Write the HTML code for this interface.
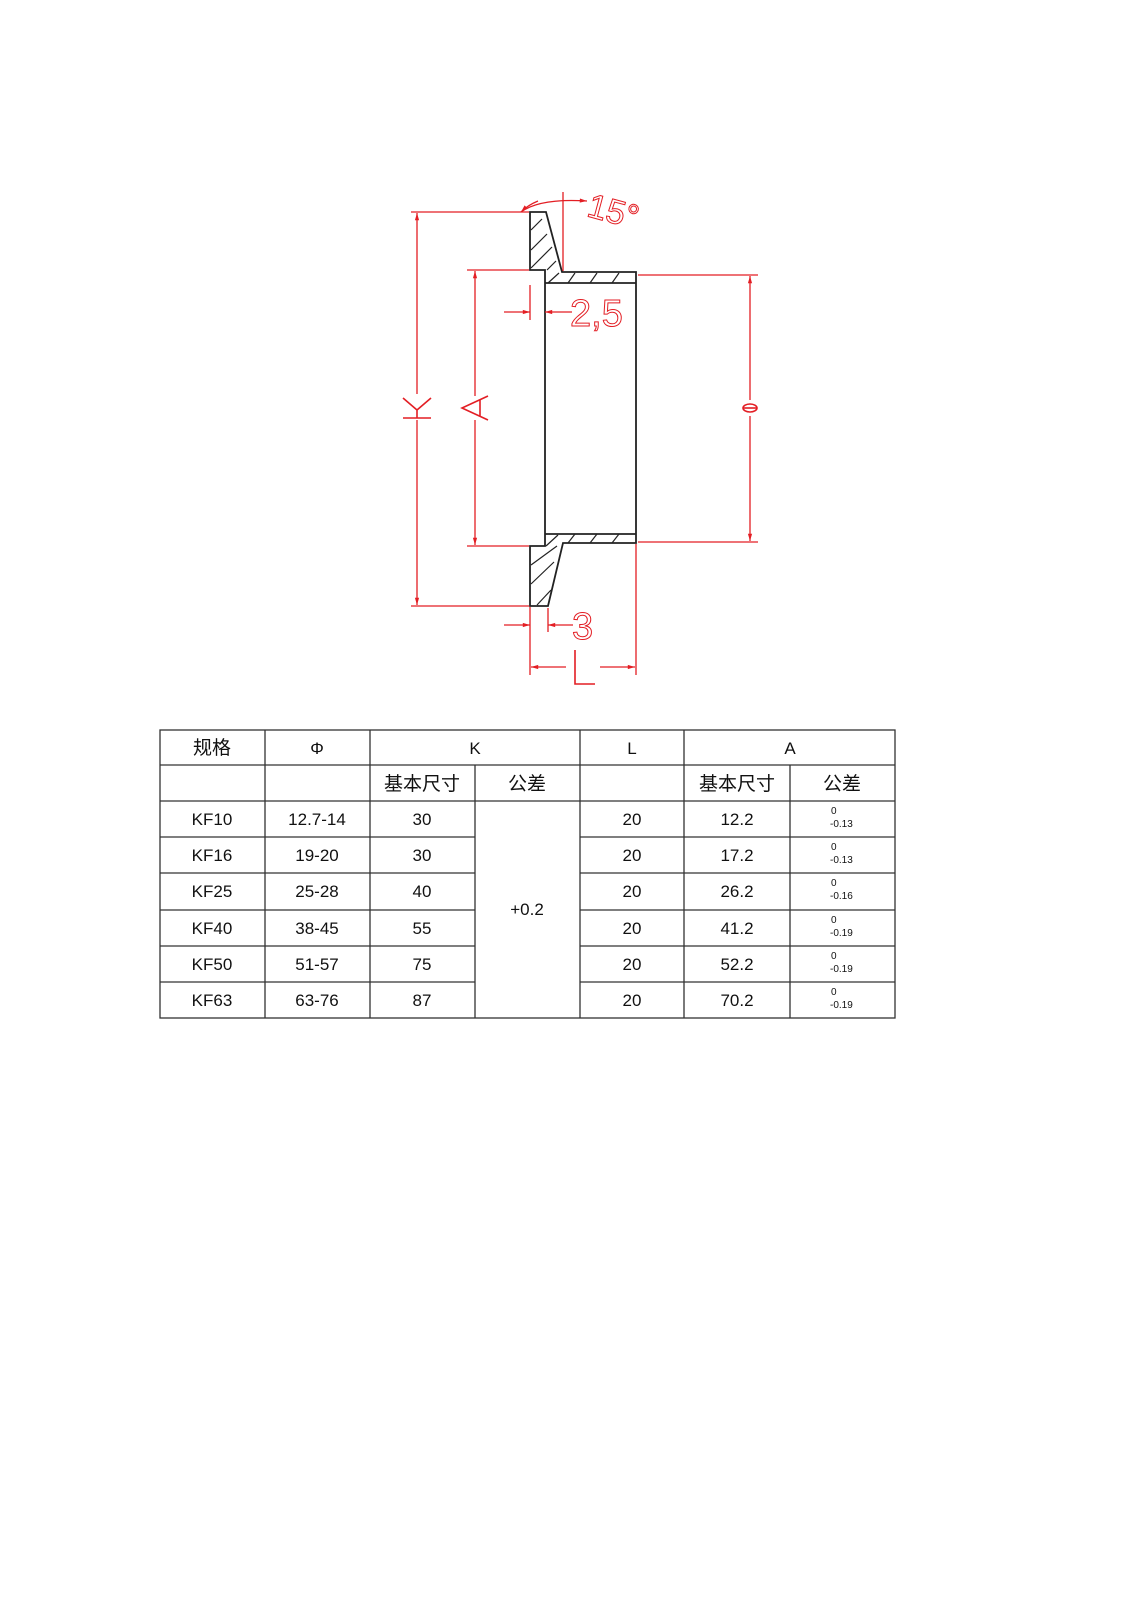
<!DOCTYPE html>
<html><head><meta charset="utf-8"><style>
body{margin:0;background:#fff;}
svg{display:block}
text{font-family:"Liberation Sans","Noto Sans CJK SC",sans-serif;}
</style></head><body>
<svg width="1131" height="1600" viewBox="0 0 1131 1600" xmlns="http://www.w3.org/2000/svg">
<defs>
<marker id="ar" viewBox="0 0 12 10" refX="12" refY="5" markerWidth="12" markerHeight="6" orient="auto-start-reverse" markerUnits="userSpaceOnUse"><path d="M0,1.5 L12,5 L0,8.5z" fill="#e31e24"/></marker>
</defs>
<!-- part outline -->
<g stroke="#222" stroke-width="1.8" fill="none">
<path d="M530,212 L546,212 L562,272 L636,272 L636,543 L563,543 L548,606 L530,606 L530,546 L545,546 L545,270 L530,270 Z"/>
<line x1="545" y1="283" x2="636" y2="283"/>
<line x1="545" y1="534" x2="636" y2="534"/>
</g>
<g stroke="#222" stroke-width="1.2">
<line x1="531" y1="230" x2="542" y2="219"/><line x1="531" y1="250" x2="547" y2="234"/><line x1="531" y1="268" x2="552" y2="247"/><line x1="547" y1="270" x2="556" y2="261"/><line x1="548" y1="283" x2="559" y2="273"/>
<line x1="568" y1="283" x2="575" y2="273"/><line x1="590" y1="283" x2="597" y2="273"/><line x1="612" y1="283" x2="619" y2="273"/>
<line x1="568" y1="543" x2="575" y2="534"/><line x1="590" y1="543" x2="597" y2="534"/><line x1="612" y1="543" x2="619" y2="534"/>
<line x1="546" y1="546" x2="558" y2="535"/><line x1="531" y1="565" x2="557" y2="546"/><line x1="531" y1="584" x2="554" y2="562"/><line x1="537" y1="605" x2="551" y2="590"/>
</g>
<!-- dimensions -->
<g stroke="#e31e24" stroke-width="1.3" fill="none">
<line x1="411" y1="212" x2="529" y2="212"/><line x1="411" y1="606" x2="529" y2="606"/>
<line x1="417" y1="213" x2="417" y2="394" marker-start="url(#ar)"/><line x1="417" y1="420" x2="417" y2="605" marker-end="url(#ar)"/>
<line x1="467" y1="270" x2="529" y2="270"/><line x1="467" y1="546" x2="529" y2="546"/>
<line x1="475" y1="271" x2="475" y2="396" marker-start="url(#ar)"/><line x1="475" y1="420" x2="475" y2="545" marker-end="url(#ar)"/>
<line x1="638" y1="275" x2="758" y2="275"/><line x1="638" y1="542" x2="758" y2="542"/>
<line x1="750" y1="276" x2="750" y2="400" marker-start="url(#ar)"/><line x1="750" y1="416" x2="750" y2="541" marker-end="url(#ar)"/>
<line x1="530" y1="607" x2="530" y2="675"/><line x1="636" y1="544" x2="636" y2="675"/>
<line x1="530" y1="285" x2="530" y2="320"/>
<line x1="504" y1="312" x2="530" y2="312" marker-end="url(#ar)"/><line x1="572" y1="312" x2="545" y2="312" marker-end="url(#ar)"/>
<line x1="548" y1="608" x2="548" y2="632"/>
<line x1="504" y1="625" x2="530" y2="625" marker-end="url(#ar)"/><line x1="573" y1="625" x2="548" y2="625" marker-end="url(#ar)"/>
<line x1="566" y1="667" x2="531" y2="667" marker-end="url(#ar)"/><line x1="600" y1="667" x2="635" y2="667" marker-end="url(#ar)"/>
<line x1="563" y1="192" x2="563" y2="271"/>
<path d="M521,212 Q540,198 587,201" marker-end="url(#ar)"/>
<path d="M521,212 Q528,205 538,201" marker-start="url(#ar)"/>
</g>
<g fill="none" stroke="#e31e24" stroke-width="1.6">
<!-- K rotated -->
<path d="M403,418 L431,418 M417,418 L417,410 M417,410 L403,398 M417,410 L431,398"/>
<!-- A rotated -->
<path d="M488,420 L462,408 L488,396 M480,400 L480,416"/>
<!-- theta -->
<ellipse cx="750" cy="408" rx="7" ry="4"/><path d="M743,408 L757,408"/>
<!-- L -->
<path d="M575,650 L575,684 L595,684"/>
</g>
<g fill="#e31e24" font-size="38">
<text x="570" y="326" fill="none" stroke="#e31e24" stroke-width="1">2,5</text>
<text x="572" y="639" fill="none" stroke="#e31e24" stroke-width="1">3</text>
<text x="588" y="222" fill="none" stroke="#e31e24" stroke-width="1" font-size="34" transform="rotate(15 610 210)">15°</text>
</g>
<!-- table -->
<g stroke="#333" stroke-width="1.3">
<rect x="160" y="730" width="735" height="288" fill="none"/>
<line x1="160" y1="765" x2="895" y2="765"/>
<line x1="160" y1="801" x2="895" y2="801"/>
<line x1="160" y1="837" x2="475" y2="837"/><line x1="580" y1="837" x2="895" y2="837"/>
<line x1="160" y1="873" x2="475" y2="873"/><line x1="580" y1="873" x2="895" y2="873"/>
<line x1="160" y1="910" x2="475" y2="910"/><line x1="580" y1="910" x2="895" y2="910"/>
<line x1="160" y1="946" x2="475" y2="946"/><line x1="580" y1="946" x2="895" y2="946"/>
<line x1="160" y1="982" x2="475" y2="982"/><line x1="580" y1="982" x2="895" y2="982"/>
<line x1="265" y1="730" x2="265" y2="1018"/><line x1="370" y1="730" x2="370" y2="1018"/>
<line x1="475" y1="765" x2="475" y2="1018"/><line x1="580" y1="730" x2="580" y2="1018"/>
<line x1="684" y1="730" x2="684" y2="1018"/><line x1="790" y1="765" x2="790" y2="1018"/>
</g>
<g font-size="17" fill="#111" text-anchor="middle">
<text x="212" y="754" font-size="19">规格</text><text x="317" y="754">Φ</text><text x="475" y="754">K</text><text x="632" y="754">L</text><text x="790" y="754">A</text>
<text x="422" y="790" font-size="19">基本尺寸</text><text x="527" y="790" font-size="19">公差</text><text x="737" y="790" font-size="19">基本尺寸</text><text x="842" y="790" font-size="19">公差</text>
<text x="527" y="915">+0.2</text>
<text x="212" y="825">KF10</text><text x="317" y="825">12.7-14</text><text x="422" y="825">30</text><text x="632" y="825">20</text><text x="737" y="825">12.2</text>
<text x="212" y="861">KF16</text><text x="317" y="861">19-20</text><text x="422" y="861">30</text><text x="632" y="861">20</text><text x="737" y="861">17.2</text>
<text x="212" y="897">KF25</text><text x="317" y="897">25-28</text><text x="422" y="897">40</text><text x="632" y="897">20</text><text x="737" y="897">26.2</text>
<text x="212" y="934">KF40</text><text x="317" y="934">38-45</text><text x="422" y="934">55</text><text x="632" y="934">20</text><text x="737" y="934">41.2</text>
<text x="212" y="970">KF50</text><text x="317" y="970">51-57</text><text x="422" y="970">75</text><text x="632" y="970">20</text><text x="737" y="970">52.2</text>
<text x="212" y="1006">KF63</text><text x="317" y="1006">63-76</text><text x="422" y="1006">87</text><text x="632" y="1006">20</text><text x="737" y="1006">70.2</text>
</g>
<g font-size="10" fill="#111">
<text x="831" y="814">0</text><text x="830" y="827">-0.13</text>
<text x="831" y="850">0</text><text x="830" y="863">-0.13</text>
<text x="831" y="886">0</text><text x="830" y="899">-0.16</text>
<text x="831" y="923">0</text><text x="830" y="936">-0.19</text>
<text x="831" y="959">0</text><text x="830" y="972">-0.19</text>
<text x="831" y="995">0</text><text x="830" y="1008">-0.19</text>
</g>
</svg>
</body></html>
